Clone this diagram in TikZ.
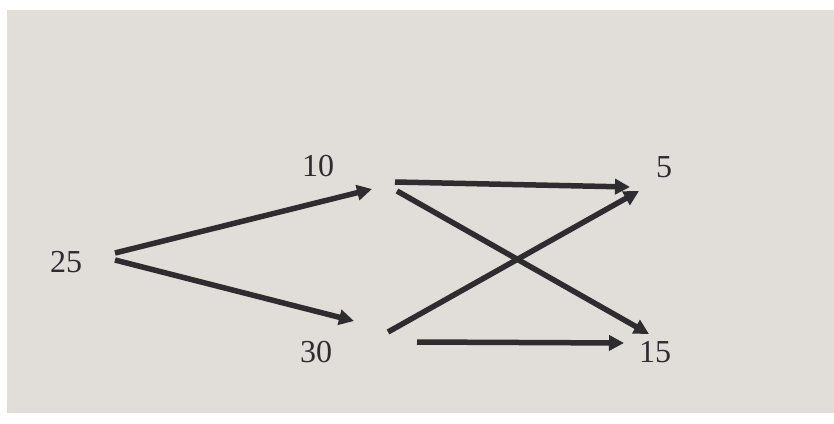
\documentclass[tikz,border=0pt]{standalone}
\usepackage{fontspec}
\setmainfont{Liberation Serif}
\usetikzlibrary{arrows.meta}

\definecolor{paper}{RGB}{225,221,216}
\definecolor{ink}{RGB}{46,44,46}

\begin{document}
\begin{tikzpicture}[x=1pt, y=-1pt,
		num/.style={text=ink, font=\fontsize{32}{36}\selectfont, inner sep=0pt},
		flow/.style={ink, line width=5.5pt, -{Triangle[length=15pt, width=15pt]}}]
		\useasboundingbox (0, 0) rectangle (834, 423);
		\fill [white] (0, 0) rectangle (834, 423);
		\fill [paper] (7, 10) rectangle (834, 413);

		\node [num] (n25) at (66, 262) {25};
		\node [num] (n10) at (318, 166) {10};
		\node [num] (n30) at (316, 352) {30};
		\node [num] (n5)  at (664, 167) {5};
		\node [num] (n15) at (655, 352) {15};

		% ends of the arrows
		\coordinate (o25a) at (115, 253);
		\coordinate (o25b) at (115, 260);
		\coordinate (i10) at (372, 189);
		\coordinate (i30) at (354, 321);
		\coordinate (o10a) at (395, 182);
		\coordinate (o10b) at (397, 191);
		\coordinate (o30a) at (388, 332);
		\coordinate (o30b) at (417, 342);
		\coordinate (i5a) at (630, 187);
		\coordinate (i5b) at (639, 191);
		\coordinate (i15a) at (649, 334);
		\coordinate (i15b) at (624, 343);

		\draw [flow] (o25a) -- (i10);
		\draw [flow] (o25b) -- (i30);
		\draw [flow] (o10a) -- (i5a);
		\draw [flow] (o10b) -- (i15a);
		\draw [flow] (o30a) -- (i5b);
		\draw [flow] (o30b) -- (i15b);
	\end{tikzpicture}
\end{document}
